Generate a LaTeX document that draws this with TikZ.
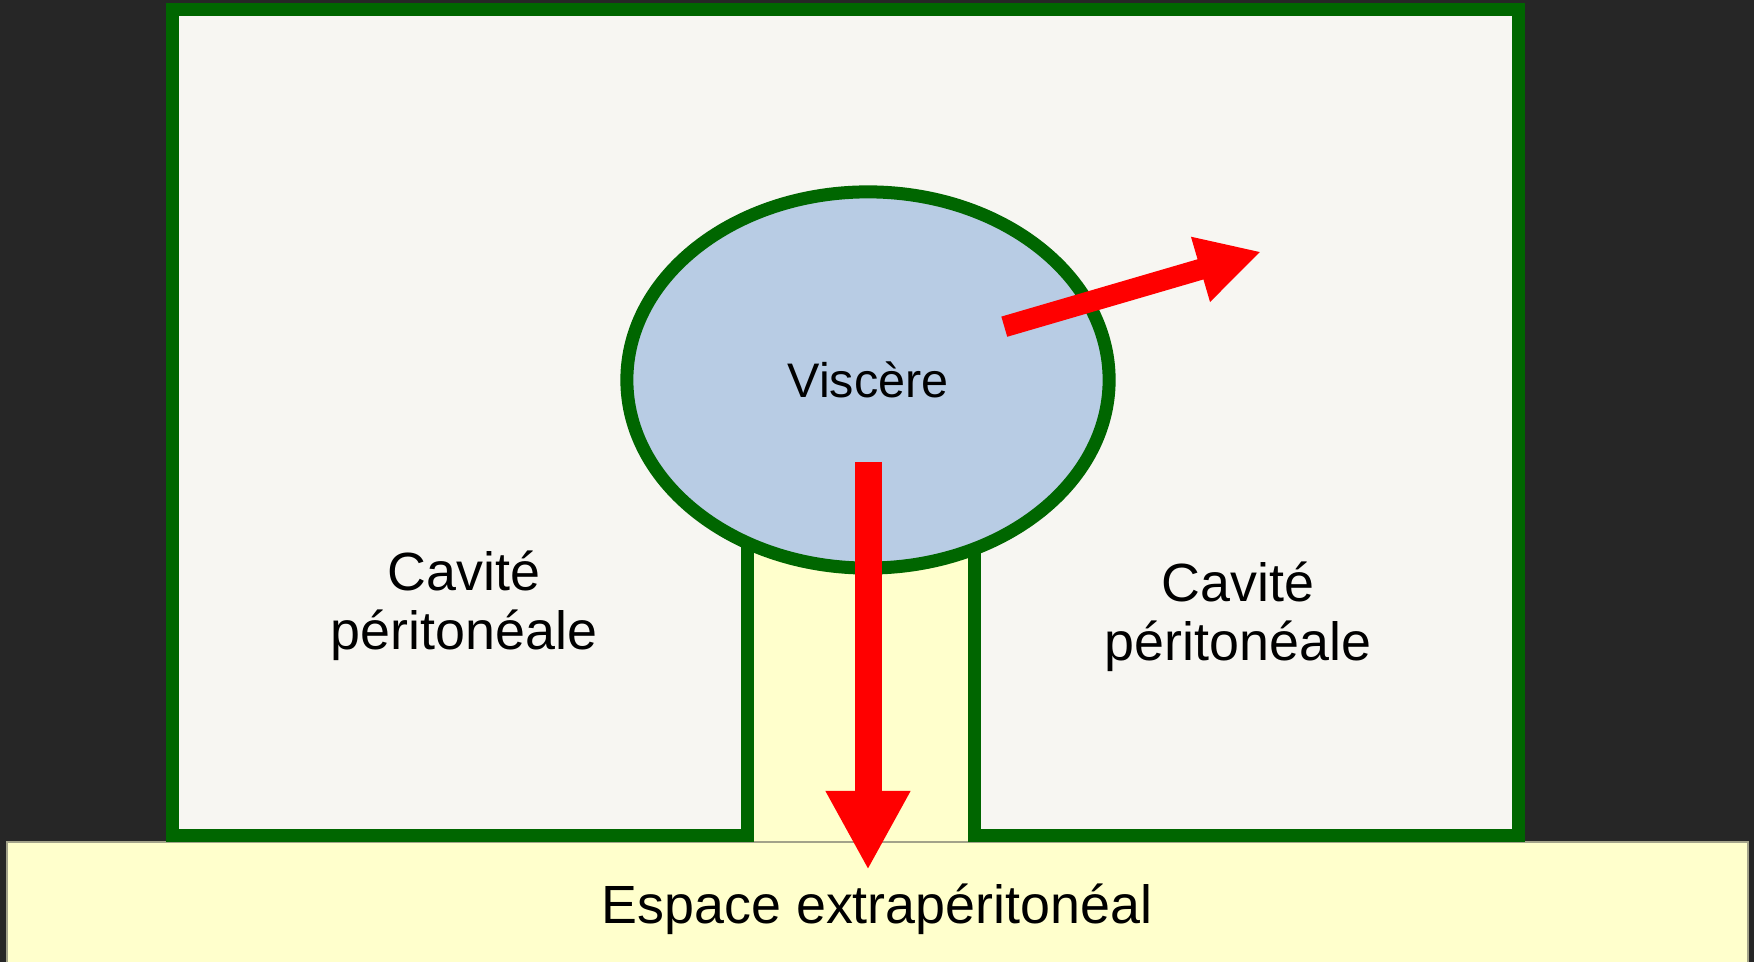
\documentclass[tikz,border=0pt]{standalone}
\usepackage{fontspec}
\setmainfont{Liberation Sans}
\usetikzlibrary{shapes.geometric,arrows.meta}
\definecolor{PerBack}{HTML}{262626}
\definecolor{PerGreen}{HTML}{006600}
\definecolor{PerCavity}{HTML}{F7F6F2}
\definecolor{PerExtra}{HTML}{FFFFCC}
\definecolor{PerOrgan}{HTML}{B8CCE4}
\definecolor{PerRed}{HTML}{FF0000}
\definecolor{PerEdge}{HTML}{A3A38A}

\begin{document}
\begin{tikzpicture}[x=0.01cm,y=-0.01cm,
  wall/.style={PerGreen,line width=1.3mm,line join=miter},
  organ/.style={ellipse,draw=PerGreen,fill=PerOrgan,line width=1.3mm,minimum width=4.82cm,minimum height=3.76cm,inner sep=0pt,font=\fontsize{13.8}{16}\selectfont},
  cavlabel/.style={align=center,inner sep=0pt,font=\fontsize{15.3}{16.8}\selectfont},
  flow/.style={PerRed,line width=#1}]
\path[use as bounding box] (0,0) rectangle (1754,962);
\fill[PerBack] (0,0) rectangle (1754,962);
\fill[PerCavity] (172.7,835.7) -- (172.7,9.5) -- (1518.3,9.5) -- (1518.3,835.7) -- (974.3,835.7) -- (974.3,380) -- (747,380) -- (747,835.7) -- cycle;
\fill[PerExtra] (747,380) rectangle (974.3,842);
\filldraw[fill=PerExtra,draw=PerEdge,line width=0.15mm] (7,842) rectangle (1748,975);
\draw[wall] (747,500) -- (747,835.7) -- (172.7,835.7) -- (172.7,9.5) -- (1518.3,9.5) -- (1518.3,835.7) -- (974.3,835.7) -- (974.3,500);
\node[organ] (visc) at (868,380) {Viscère};
\node[cavlabel] (cavl) at (464,606) {Cavité\\péritonéale};
\node[cavlabel] (cavr) at (1238,617) {Cavité\\péritonéale};
\node[cavlabel,anchor=base] (extra) at (877,924) {Espace extrapéritonéal};
\coordinate (downtail) at (868,462);
\coordinate (downtip) at (868,870);
\coordinate (outtail) at (1004.3,326.7);
\coordinate (outtip) at (1261,251.7);
\draw[flow=2.7mm,-{Triangle[length=7.9mm,width=7.9mm]}] (downtail) -- (downtip);
\draw[flow=2.1mm,-{Triangle[length=6.3mm,width=6.3mm]}] (outtail) -- (outtip);
\end{tikzpicture}
\end{document}
